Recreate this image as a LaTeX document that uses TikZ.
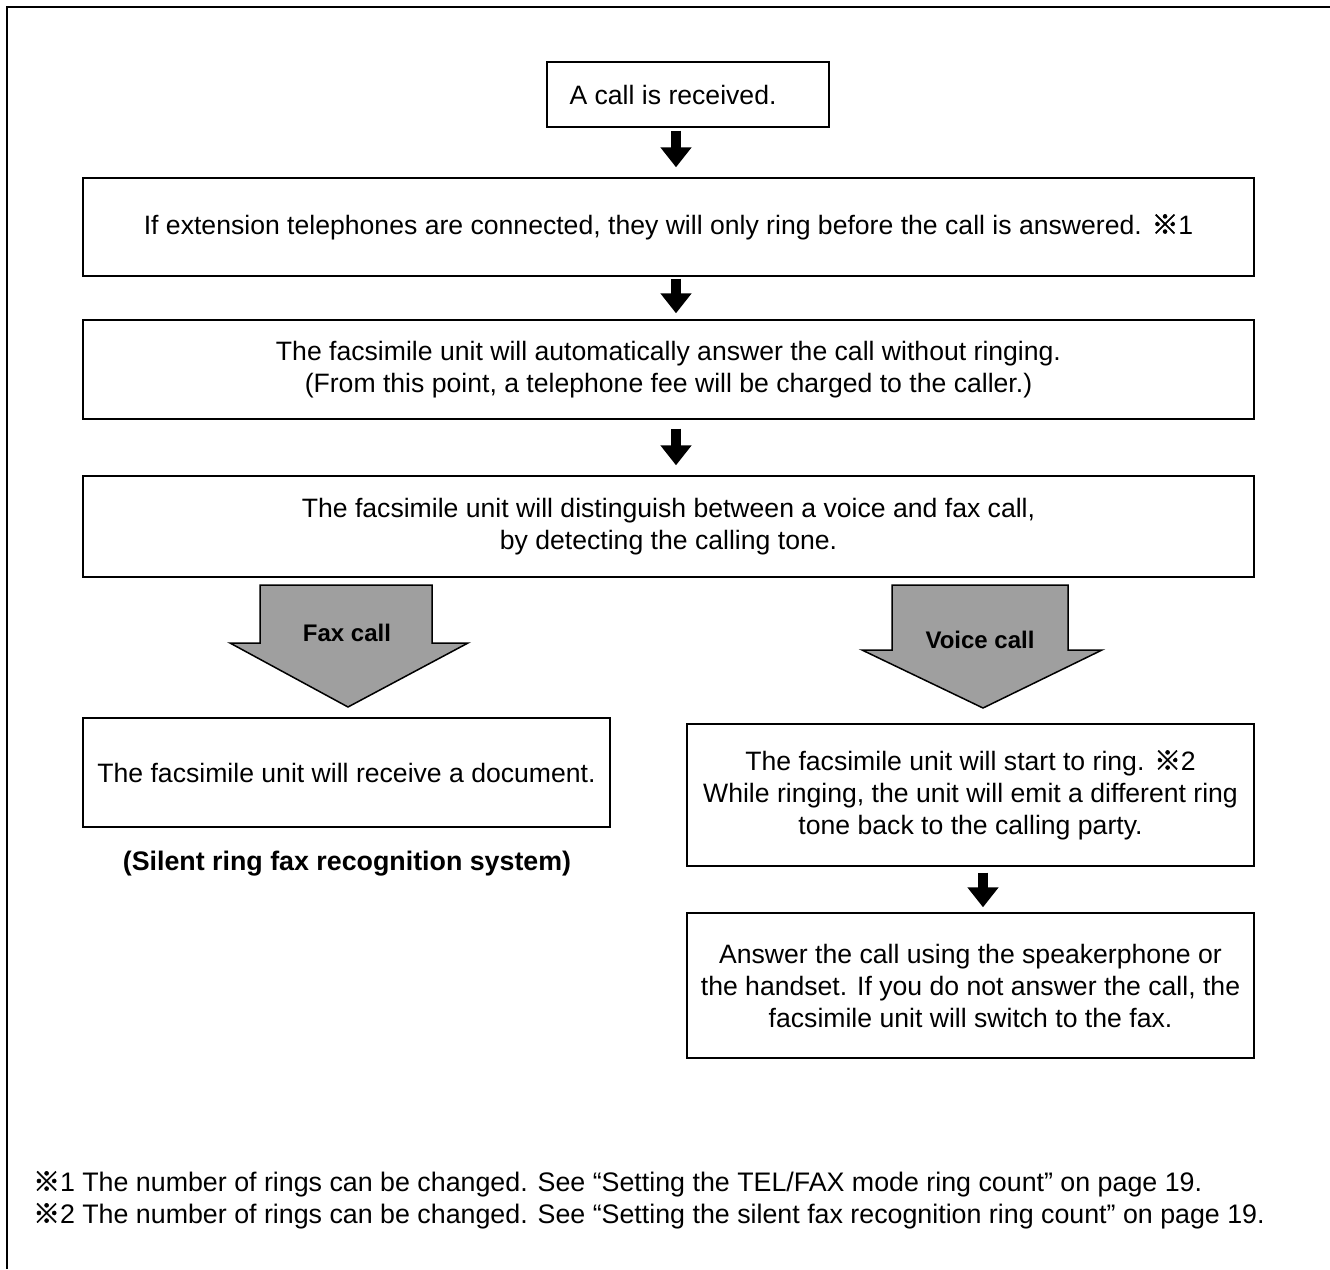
\documentclass[tikz,border=0pt]{standalone}
\usepackage{fontspec}
\setmainfont{Liberation Sans}
\newfontfamily\refmark{Noto Sans CJK JP}[FakeBold=2]
\usetikzlibrary{arrows.meta,calc}
\newcommand{\kome}{{\refmark ※}}
\tikzset{
  box/.style={draw=black, line width=1.4pt, align=center, inner sep=0pt,
    font=\fontsize{26.6}{32}\selectfont},
  downarrow/.style={line width=10pt, -{Triangle[width=30pt,length=20pt]}},
  bigarrow/.style={draw=black, line width=1.5pt, fill=gray!75},
  txt/.style={font=\fontsize{26.6}{32}\selectfont, inner sep=0pt},
  foot/.style={font=\fontsize{26.8}{32}\selectfont, inner sep=0pt, anchor=west},
}
\begin{document}
\begin{tikzpicture}[x=1pt,y=-1pt]
\useasboundingbox (0,0) rectangle (1330,1269);
\draw[line width=2.5pt] (7,1269) -- (7,7) -- (1330,7);

\node[box, minimum width=282pt, minimum height=65pt] (b1) at (688,94.5) {\hspace*{-30pt}A call is received.};
\node[box, minimum width=1171pt, minimum height=98pt] (b2) at (668.5,227)
  {If extension telephones are connected, they will only ring before the call is answered. \kome1};
\node[box, minimum width=1171pt, minimum height=99pt] (b3) at (668.5,369.5)
  {The facsimile unit will automatically answer the call without ringing.\\(From this point, a telephone fee will be charged to the caller.)};
\node[box, minimum width=1171pt, minimum height=101pt] (b4) at (668.5,526.5)
  {The facsimile unit will distinguish between a voice and fax call,\\by detecting the calling tone.};
\node[box, minimum width=527pt, minimum height=109pt] (bl) at (346.5,772.5)
  {The facsimile unit will receive a document.};
\node[box, minimum width=567pt, minimum height=142pt] (br) at (970.5,795)
  {The facsimile unit will start to ring. \kome2\\While ringing, the unit will emit a different ring\\tone back to the calling party.};
\node[box, minimum width=567pt, minimum height=145pt] (br2) at (970.5,985.5)
  {Answer the call using the speakerphone or\\the handset. If you do not answer the call, the\\facsimile unit will switch to the fax.};

\coordinate (ax) at (676,0);
\coordinate (axr) at (983,0);
\draw[downarrow, shorten <=3pt, shorten >=10pt] (b1.south -| ax) -- (b2.north -| ax);
\draw[downarrow, shorten <=2pt, shorten >=6pt] (b2.south -| ax) -- (b3.north -| ax);
\draw[downarrow, shorten <=9pt, shorten >=10pt] (b3.south -| ax) -- (b4.north -| ax);
\draw[downarrow, shorten <=6pt, shorten >=5pt] (br.south -| axr) -- (br2.north -| axr);

% big arrows
\draw[bigarrow] (260,585) -- (432,585) -- (432,643) -- (468,643) -- (348,707)
  -- (230,643) -- (260,643) -- cycle;
\node[txt, font=\fontsize{24}{26}\selectfont\bfseries] (fax) at (347,633) {Fax call};
\draw[bigarrow] (892,585) -- (1068,585) -- (1068,650) -- (1102,650) -- (983,708)
  -- (862,650) -- (892,650) -- cycle;
\node[txt, font=\fontsize{24}{26}\selectfont\bfseries] (voice) at (980,640) {Voice call};

\node[txt, font=\fontsize{26.8}{32}\selectfont\bfseries] (sil) at (347,864) {(Silent ring fax recognition system)};

\node[foot] (f1) at (33,1184) {\kome1 The number of rings can be changed. See ``Setting the TEL/FAX mode ring count'' on page 19.};
\node[foot] (f2) at (33,1216) {\kome2 The number of rings can be changed. See ``Setting the silent fax recognition ring count'' on page 19.};
\end{tikzpicture}
\end{document}
